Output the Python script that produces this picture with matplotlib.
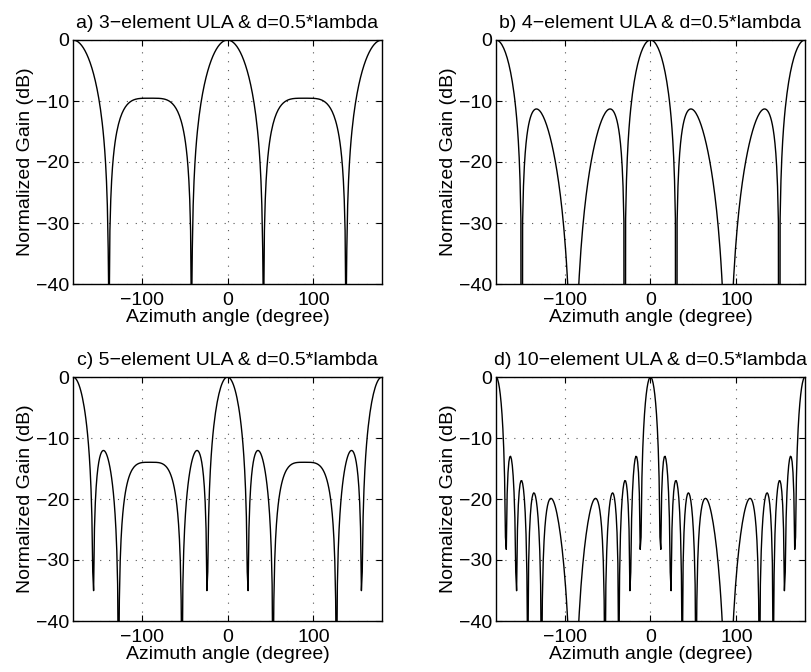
import numpy as np
import matplotlib
matplotlib.use("Agg")
import matplotlib.pyplot as plt

# parameters shown in the panel titles
n_elements = [3, 4, 5, 10]
spacing = 0.5  # d / lambda
panel_tags = ["a)", "b)", "c)", "d)"]
angles_deg = np.arange(-180, 181, 1)  # sampled every degree
x_ticks = [-100, 0, 100]
y_ticks = [-40, -30, -20, -10, 0]

plt.rcParams['font.family'] = ['Liberation Sans', 'DejaVu Sans']
plt.rcParams['font.size'] = 14

# axes positions in pixels (left, top, right, bottom) of a 812x672 figure
W, H = 812, 672
boxes = [(73, 40, 382, 284), (496, 40, 805, 284),
         (73, 377, 382, 621), (496, 377, 805, 621)]

fig = plt.figure(figsize=(W / 100, H / 100), dpi=100)

theta = np.deg2rad(angles_deg)
for tag, n, (l, t, r, b) in zip(panel_tags, n_elements, boxes):
    ax = fig.add_axes([l / W, 1 - b / H, (r - l) / W, (b - t) / H])
    # uniform linear array factor
    psi = np.pi * 2 * spacing * np.sin(theta)
    num = np.sin(n * psi / 2)
    den = n * np.sin(psi / 2)
    small = np.abs(den) < 1e-12
    af = np.where(small, 1.0, np.abs(num) / np.where(small, 1, np.abs(den)))
    gain_db = 20 * np.log10(np.maximum(af, 1e-10))

    ax.plot(angles_deg, gain_db, color='black', lw=1.0)
    ax.set_xlim(-180, 180)
    ax.set_ylim(-40, 0)
    ax.set_xticks(x_ticks)
    ax.set_yticks(y_ticks)
    ax.grid(True, color='#555555', linestyle=(0, (1, 7)), linewidth=0.8)
    ax.tick_params(direction='in', top=True, right=True, length=4, width=0.8)
    ax.tick_params(axis='x', pad=6)
    ax.tick_params(axis='y', pad=3)
    for s in ax.spines.values():
        s.set_linewidth(1.0)
    ax.set_title(f"{tag} {n}\u2212element ULA & d=0.5*lambda", fontsize=14, pad=9)
    ax.set_xlabel("Azimuth angle (degree)", labelpad=0)
    ax.set_ylabel("Normalized Gain (dB)", labelpad=1)

fig.savefig("out.png", dpi=100)
